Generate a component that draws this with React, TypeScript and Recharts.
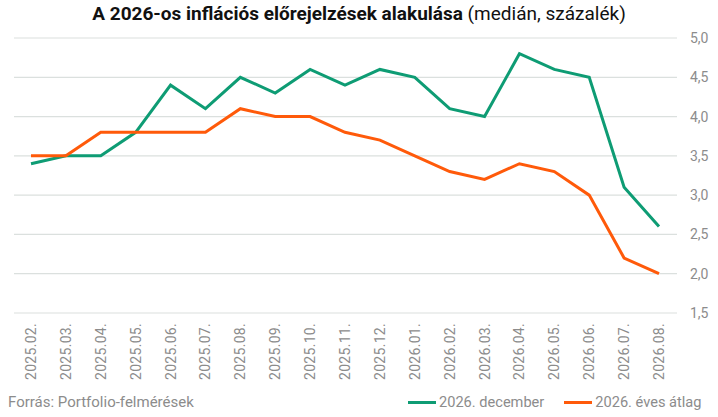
import React from "react";
import { LineChart, Line, XAxis, YAxis, CartesianGrid } from "recharts";

const categories = [
  "2025.02.", "2025.03.", "2025.04.", "2025.05.", "2025.06.", "2025.07.", "2025.08.",
  "2025.09.", "2025.10.", "2025.11.", "2025.12.", "2026.01.", "2026.02.", "2026.03.",
  "2026.04.", "2026.05.", "2026.06.", "2026.07.", "2026.08.",
];
const december = [3.4, 3.5, 3.5, 3.8, 4.4, 4.1, 4.5, 4.3, 4.6, 4.4, 4.6, 4.5, 4.1, 4.0, 4.8, 4.6, 4.5, 3.1, 2.6];
const evesAtlag = [3.5, 3.5, 3.8, 3.8, 3.8, 3.8, 4.1, 4.0, 4.0, 3.8, 3.7, 3.5, 3.3, 3.2, 3.4, 3.3, 3.0, 2.2, 2.0];
const yTicks = [1.5, 2, 2.5, 3, 3.5, 4, 4.5, 5];
const seriesNames = ["2026. december", "2026. éves átlag"];

const GREEN = "#0e9c74";
const ORANGE = "#ff5a0a";
const GRAY = "#8c8c8c";
const FONT = "Roboto, sans-serif";

const data = categories.map((c, i) => ({ cat: c, dec: december[i], avg: evesAtlag[i] }));

const XTick = (props: any) => {
  const { x, y, payload } = props;
  return (
    <text
      x={x}
      y={y}
      transform={`rotate(-90 ${x} ${y})`}
      textAnchor="end"
      dominantBaseline="central"
      fill={GRAY}
      fontSize={14}
      fontFamily={FONT}
      letterSpacing={0.3}
    >
      {payload.value}
    </text>
  );
};

export default function App() {
  return (
    <div style={{ position: "absolute", left: 0, top: 0, width: 718, height: 417, background: "#fff", fontFamily: FONT }}>
      <div
        style={{
          position: "absolute",
          top: 2,
          left: 0,
          width: 718,
          textAlign: "center",
          fontSize: 19,
          color: "#111",
          whiteSpace: "nowrap",
        }}
      >
        <span style={{ fontWeight: 700 }}>A 2026-os inflációs előrejelzések alakulása</span>
        <span> (medián, százalék)</span>
      </div>
      <LineChart
        width={718}
        height={417}
        data={data}
        margin={{ top: 38, right: 0, left: 14, bottom: 34 }}
        style={{ position: "absolute", left: 0, top: 0 }}
      >
        <CartesianGrid vertical={false} stroke="#dbe0de" strokeWidth={1.2} />
        <XAxis
          dataKey="cat"
          interval={0}
          axisLine={false}
          tickLine={false}
          tickSize={0}
          tickMargin={10}
          height={70}
          padding={{ left: 17, right: 18 }}
          tick={<XTick />}
        />
        <YAxis
          orientation="right"
          domain={[1.5, 5]}
          ticks={yTicks}
          interval={0}
          width={41}
          axisLine={false}
          tickLine={false}
          tickSize={0}
          tickMargin={13}
          tick={{ fill: GRAY, fontSize: 14, fontFamily: FONT }}
          tickFormatter={(v: number) => v.toFixed(1).replace(".", ",")}
        />
        <Line dataKey="dec" name={seriesNames[0]} stroke={GREEN} strokeWidth={3} dot={false} isAnimationActive={false} strokeLinejoin="miter" />
        <Line dataKey="avg" name={seriesNames[1]} stroke={ORANGE} strokeWidth={3} dot={false} isAnimationActive={false} strokeLinejoin="miter" />
      </LineChart>
      <div style={{ position: "absolute", left: 8, top: 393, fontSize: 15, color: GRAY, whiteSpace: "nowrap" }}>
        Forrás: Portfolio-felmérések
      </div>
      <div style={{ position: "absolute", left: 408, top: 393, fontSize: 14.6, color: GRAY, whiteSpace: "nowrap", display: "flex", alignItems: "center" }}>
        <span style={{ display: "inline-block", width: 28, height: 3, background: GREEN, marginRight: 3 }} />
        <span style={{ marginRight: 20 }}>{seriesNames[0]}</span>
        <span style={{ display: "inline-block", width: 28, height: 3, background: ORANGE, marginRight: 3 }} />
        <span>{seriesNames[1]}</span>
      </div>
    </div>
  );
}
